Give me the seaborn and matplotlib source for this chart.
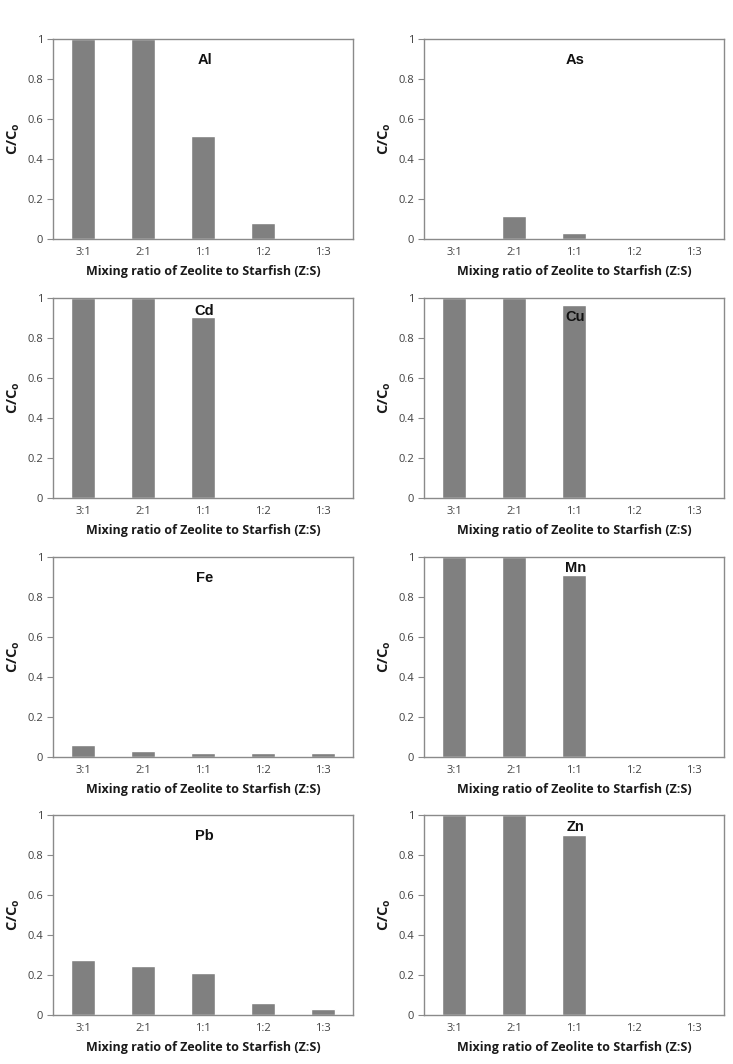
import matplotlib
matplotlib.use("Agg")
import matplotlib.pyplot as plt
import seaborn as sns
import pandas as pd

# --- data ---
ratios = ["3:1", "2:1", "1:1", "1:2", "1:3"]
metals = ["Al", "As", "Cd", "Cu", "Fe", "Mn", "Pb", "Zn"]
al = [1.0, 1.0, 0.515, 0.08, 0.0]
as_ = [0.0, 0.117, 0.028, 0.0, 0.0]
cd = [1.0, 1.0, 0.905, 0.0, 0.0]
cu = [1.0, 1.0, 0.965, 0.0, 0.0]
fe = [0.062, 0.028, 0.018, 0.018, 0.02]
mn = [1.0, 1.0, 0.91, 0.0, 0.0]
pb = [0.275, 0.243, 0.21, 0.058, 0.032]
zn = [1.0, 1.0, 0.9, 0.0, 0.0]
values = [al, as_, cd, cu, fe, mn, pb, zn]
# label heights (axes fraction) for each panel
label_y = [0.895, 0.895, 0.935, 0.905, 0.895, 0.945, 0.895, 0.94]

sns.set_style("white")
plt.rcParams["font.family"] = ["Open Sans", "DejaVu Sans"]
plt.rcParams["mathtext.fontset"] = "custom"
plt.rcParams["mathtext.rm"] = "Open Sans"
plt.rcParams["mathtext.bf"] = "Open Sans:bold"

fig = plt.figure(figsize=(7.33, 10.64), dpi=100)
W, H = 733, 1064
lefts = [53, 424]
tops = [39, 298, 557, 815]
aw, ah = 300, 200

for i, (metal, vals) in enumerate(zip(metals, values)):
    r, c = divmod(i, 2)
    ax = fig.add_axes([lefts[c] / W, 1 - (tops[r] + ah) / H, aw / W, ah / H])
    df = pd.DataFrame({"ratio": ratios, "value": vals})
    sns.barplot(data=df, x="ratio", y="value", color="#808080", saturation=1,
                width=0.4, ax=ax)
    ax.set_ylim(0, 1)
    ax.set_xlim(-0.5, 4.5)
    ax.set_yticks([0, 0.2, 0.4, 0.6, 0.8, 1])
    ax.set_yticklabels(["0", "0.2", "0.4", "0.6", "0.8", "1"])
    for s in ax.spines.values():
        s.set_visible(True)
        s.set_color("#8a8a8a")
        s.set_linewidth(1.0)
    ax.tick_params(axis="y", length=4, width=0.8, color="#8a8a8a",
                   labelsize=8, labelcolor="#404040", pad=3, left=True)
    ax.tick_params(axis="x", length=0, labelsize=8, labelcolor="#404040", pad=6)
    ax.set_xlabel("Mixing ratio of Zeolite to Starfish (Z:S)", fontsize=9,
                  fontweight="bold", color="#1a1a1a", labelpad=5)
    ax.set_ylabel(r"C/C$_\mathbf{o}$", fontsize=10.5, fontweight="bold",
                  color="#1a1a1a", labelpad=4)
    ax.text(0.505, label_y[i], metal, transform=ax.transAxes, ha="center",
            va="center", fontsize=10.5, fontweight="bold",
            family="Liberation Sans", color="#111111")

fig.savefig("out.png", dpi=100)
